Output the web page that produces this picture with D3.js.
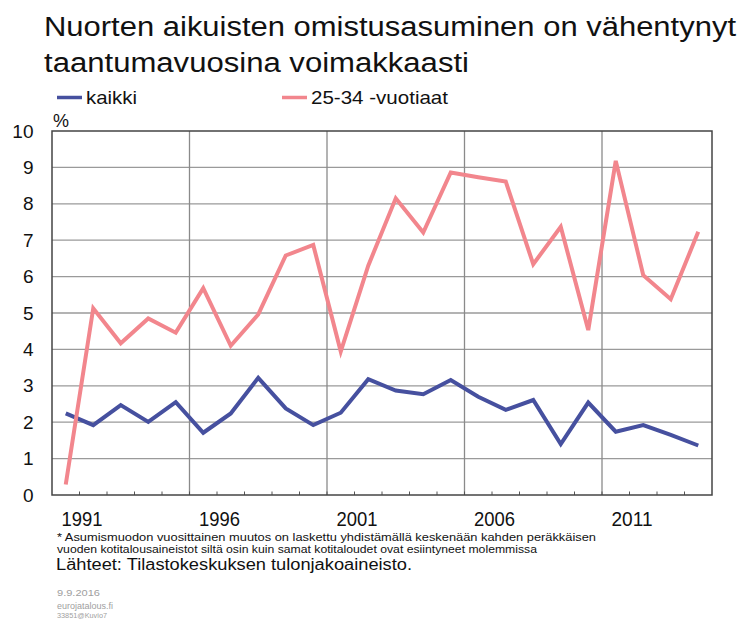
<!DOCTYPE html>
<html><head><meta charset="utf-8">
<script src="https://cdn.jsdelivr.net/npm/d3@7"></script>
<style>body{margin:0;background:#fff}svg{display:block;font-family:"Liberation Sans",Arial,sans-serif}</style>
</head><body>
<svg id="c" width="738" height="620"></svg>
<script>
const years = d3.range(1991, 2015);
const kaikki = [2.24,1.92,2.47,2.01,2.55,1.71,2.24,3.22,2.38,1.92,2.26,3.18,2.87,2.77,3.16,2.70,2.34,2.61,1.40,2.54,1.74,1.92,1.65,1.36];
const nuoret = [0.29,5.13,4.17,4.85,4.46,5.68,4.10,4.96,6.58,6.87,3.94,6.30,8.15,7.21,8.86,8.73,8.61,6.34,7.37,4.53,9.18,6.04,5.38,7.23];
const yTicks = [0,1,2,3,4,5,6,7,8,9,10];
const xLabels = [1991,1996,2001,2006,2011];
const seriesNames = ["kaikki","25-34 -vuotiaat"];
const colors = ["#46509f","#f2868d"];
const titleLines = ["Nuorten aikuisten omistusasuminen on vähentynyt","taantumavuosina voimakkaasti"];
const footLines = ["* Asumismuodon vuosittainen  muutos on laskettu yhdistämällä  keskenään  kahden  peräkkäisen","vuoden kotitalousaineistot  siltä osin kuin samat kotitaloudet ovat esiintyneet molemmissa"];
const source = "Lähteet: Tilastokeskuksen tulonjakoaineisto.";
const meta = ["9.9.2016","eurojatalous.fi","33851@Kuvio7"];

const svg = d3.select("#c");
const L=52, R=712, T=131, B=495;
const x = d3.scaleBand().domain(years).range([L,R]).paddingInner(0).paddingOuter(0);
const bw = x.bandwidth();
const y = d3.scaleLinear().domain([0,10]).range([B,T]);

// title
const tw = [692, 425];
svg.selectAll("text.title").data(titleLines).join("text").attr("class","title")
  .attr("x",44).attr("y",(d,i)=>36+i*35.5).attr("font-size",27).attr("fill","#111")
  .attr("textLength",(d,i)=>tw[i]).attr("lengthAdjust","spacingAndGlyphs").text(d=>d);

// legend
const legX=[57,282], legW=[51,137];
seriesNames.forEach((n,i)=>{
  svg.append("line").attr("x1",legX[i]).attr("x2",legX[i]+25).attr("y1",97.5).attr("y2",97.5)
    .attr("stroke",colors[i]).attr("stroke-width",3.5);
  svg.append("text").attr("x",legX[i]+29).attr("y",104).attr("font-size",19).attr("fill","#111")
    .attr("textLength",legW[i]).attr("lengthAdjust","spacingAndGlyphs").text(n);
});

// grid
svg.append("g").selectAll("line").data(yTicks.slice(1,-1)).join("line")
  .attr("x1",L).attr("x2",R).attr("y1",d=>y(d)).attr("y2",d=>y(d))
  .attr("stroke","#9a9a9a").attr("stroke-width",1.3);
svg.append("g").selectAll("line").data(xLabels.slice(1)).join("line")
  .attr("x1",d=>x(d)).attr("x2",d=>x(d)).attr("y1",T).attr("y2",B)
  .attr("stroke","#8a8a8a").attr("stroke-width",1.3);
// small ticks
svg.append("g").selectAll("line").data(years.slice(1)).join("line")
  .attr("x1",d=>x(d)).attr("x2",d=>x(d)).attr("y1",B).attr("y2",B-3.5)
  .attr("stroke","#555").attr("stroke-width",1);
// frame
svg.append("rect").attr("x",L).attr("y",T).attr("width",R-L).attr("height",B-T)
  .attr("fill","none").attr("stroke","#444").attr("stroke-width",1.5);

// y labels
svg.append("g").selectAll("text").data(yTicks).join("text")
  .attr("x",33.5).attr("y",d=>y(d)).attr("dy","0.35em").attr("text-anchor","end")
  .attr("font-size",19).attr("fill","#111").text(d=>d);
svg.append("text").attr("x",53).attr("y",127).attr("font-size",18).attr("fill","#111").text("%");

// x labels
svg.append("g").selectAll("text").data(xLabels).join("text")
  .attr("x",d=>x(d)+9.5).attr("y",526).attr("font-size",19.5).attr("fill","#111")
  .attr("textLength",41).attr("lengthAdjust","spacingAndGlyphs").text(d=>d);

// lines
const line = d3.line().x((d,i)=>x(years[i])+bw/2).y(d=>y(d));
[kaikki,nuoret].forEach((s,i)=>{
  svg.append("path").attr("d",line(s)).attr("fill","none").attr("stroke",colors[i])
    .attr("stroke-width",4).attr("stroke-linejoin","miter");
});

// footnotes
const fw=[539,480];
svg.selectAll("text.foot").data(footLines).join("text").attr("class","foot")
  .attr("x",57).attr("y",(d,i)=>541+i*11.5).attr("font-size",10.5).attr("fill","#111")
  .attr("textLength",(d,i)=>fw[i]).attr("lengthAdjust","spacingAndGlyphs").text(d=>d);
svg.append("text").attr("x",56).attr("y",569.5).attr("font-size",16).attr("fill","#111")
  .attr("textLength",356).attr("lengthAdjust","spacingAndGlyphs").text(source);
const mw=[43,56,50], my=[596,608.5,617.5], ms=[9,9.5,8];
meta.forEach((t,i)=>{
  svg.append("text").attr("x",57).attr("y",my[i]).attr("font-size",ms[i]).attr("fill","#a0a0a0")
    .attr("textLength",mw[i]).attr("lengthAdjust","spacingAndGlyphs").text(t);
});
</script>
</body></html>
